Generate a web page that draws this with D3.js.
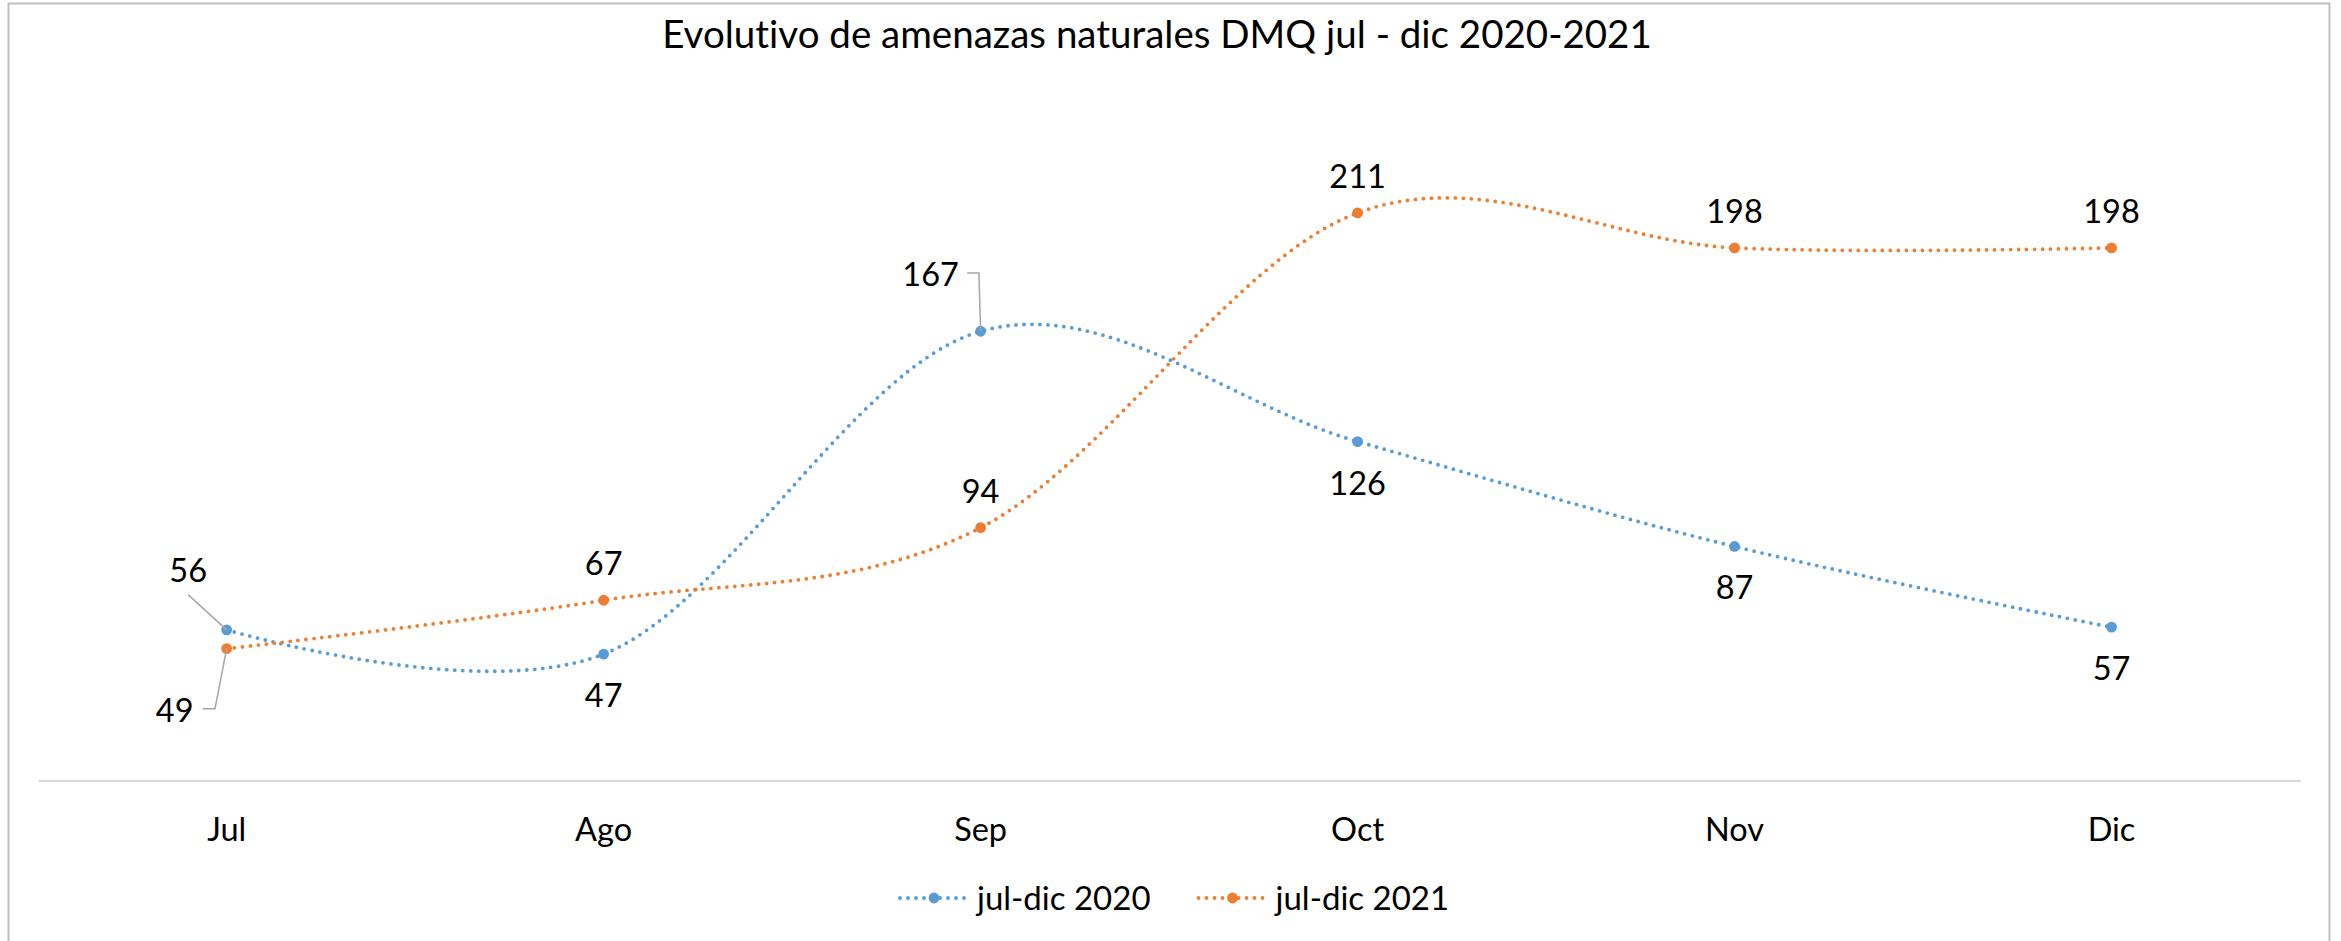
<!DOCTYPE html>
<html>
<head>
<meta charset="utf-8">
<script src="https://cdn.jsdelivr.net/npm/d3@7"></script>
<style>
  body { margin: 0; background: #fff; }
  text { font-family: Lato, "Open Sans", sans-serif; fill: #000; font-variant-ligatures: none; }
</style>
</head>
<body>
<div id="chart"></div>
<script>
const months = ['Jul', 'Ago', 'Sep', 'Oct', 'Nov', 'Dic'];
const values2020 = [56, 47, 167, 126, 87, 57];
const values2021 = [49, 67, 94, 211, 198, 198];
const seriesNames = ['jul-dic 2020', 'jul-dic 2021'];
const yTicks = [0, 250];

// where each data label sits relative to its point
const labelPlace2020 = ['leaderUp', 'below', 'leaderUp', 'below', 'below', 'below'];
const labelPlace2021 = ['leaderDown', 'above', 'above', 'above', 'above', 'above'];

const width = 2341;
const height = 941;
const blue = '#5B9BD5';
const orange = '#ED7D31';
const axisColor = '#D9D9D9';
const borderColor = '#BFBFBF';
const leaderColor = '#A6A6A6';

const svg = d3.select('#chart')
  .append('svg')
  .attr('width', width)
  .attr('height', height);

svg.append('rect')
  .attr('x', 8.5)
  .attr('y', 3.5)
  .attr('width', 2321)
  .attr('height', 960)
  .attr('fill', '#fff')
  .attr('stroke', borderColor)
  .attr('stroke-width', 2);

const xScale = d3.scaleBand()
  .domain(months)
  .range([38.2, 2300])
  .padding(0);

const yScale = d3.scaleLinear()
  .domain(d3.extent(yTicks))
  .range([780.5, 108]);

const xPos = m => xScale(m) + xScale.bandwidth() / 2;

svg.append('text')
  .attr('x', 1157)
  .attr('y', 48)
  .attr('text-anchor', 'middle')
  .style('font-size', '38.5px')
  .text('Evolutivo de amenazas naturales DMQ jul - dic 2020-2021');

// category axis
const xAxis = d3.axisBottom(xScale).tickSize(0).tickPadding(0);
const gx = svg.append('g')
  .attr('transform', `translate(0, ${yScale(0)})`)
  .call(xAxis);
gx.select('.domain')
  .attr('stroke', axisColor)
  .attr('stroke-width', 2);
gx.selectAll('.tick text')
  .attr('y', 60)
  .attr('dy', 0)
  .style('font-size', '32.5px')
  .style('font-family', 'Lato, sans-serif')
  .attr('fill', '#000');

const line = d3.line()
  .x((d, i) => xPos(months[i]))
  .y(d => yScale(d))
  .curve(d3.curveCardinal.tension(0));

function drawSeries(values, color, places) {
  const g = svg.append('g');
  g.append('path')
    .datum(values)
    .attr('d', line)
    .attr('fill', 'none')
    .attr('stroke', color)
    .attr('stroke-width', 3.8)
    .attr('stroke-linecap', 'round')
    .attr('stroke-dasharray', '0 8');

  g.selectAll('circle')
    .data(values)
    .join('circle')
    .attr('cx', (d, i) => xPos(months[i]))
    .attr('cy', d => yScale(d))
    .attr('r', 5.4)
    .attr('fill', color);

  values.forEach((v, i) => {
    const px = xPos(months[i]);
    const py = yScale(v);
    const place = places[i];
    let tx = px, ty = py - 25;
    if (place === 'below') {
      ty = py + 53;
    } else if (place === 'leaderUp' && i === 0) {
      tx = px - 38.5; ty = py - 47.6;
      g.append('path')
        .attr('d', `M${px - 38.4},${py - 35}L${px},${py}`)
        .attr('fill', 'none').attr('stroke', leaderColor).attr('stroke-width', 1.5);
    } else if (place === 'leaderUp') {
      tx = px - 50; ty = py - 45;
      g.append('path')
        .attr('d', `M${px - 13.4},${py - 58.3}H${px - 1.7}L${px},${py}`)
        .attr('fill', 'none').attr('stroke', leaderColor).attr('stroke-width', 1.5);
    } else if (place === 'leaderDown') {
      tx = px - 52; ty = py + 73.4;
      g.append('path')
        .attr('d', `M${px - 24},${py + 60}H${px - 11.7}L${px},${py}`)
        .attr('fill', 'none').attr('stroke', leaderColor).attr('stroke-width', 1.5);
    }
    g.append('text')
      .attr('x', tx)
      .attr('y', ty)
      .attr('text-anchor', 'middle')
      .style('font-size', '32.5px')
      .text(v);
  });
}

drawSeries(values2020, blue, labelPlace2020);
drawSeries(values2021, orange, labelPlace2021);

// legend
const legend = svg.append('g');
const legendColors = [blue, orange];
let lx = 900;
seriesNames.forEach((name, i) => {
  const item = legend.append('g').attr('transform', `translate(${lx}, 898)`);
  item.append('line')
    .attr('x1', 0).attr('x2', 69)
    .attr('y1', 0).attr('y2', 0)
    .attr('stroke', legendColors[i])
    .attr('stroke-width', 3.8)
    .attr('stroke-linecap', 'round')
    .attr('stroke-dasharray', '0 8');
  item.append('circle')
    .attr('cx', 34).attr('cy', 0).attr('r', 5.4)
    .attr('fill', legendColors[i]);
  const t = item.append('text')
    .attr('x', 77)
    .attr('y', 12)
    .style('font-size', '33px')
    .text(name);
  lx += 77 + t.node().getComputedTextLength() + 48;
});
</script>
</body>
</html>
